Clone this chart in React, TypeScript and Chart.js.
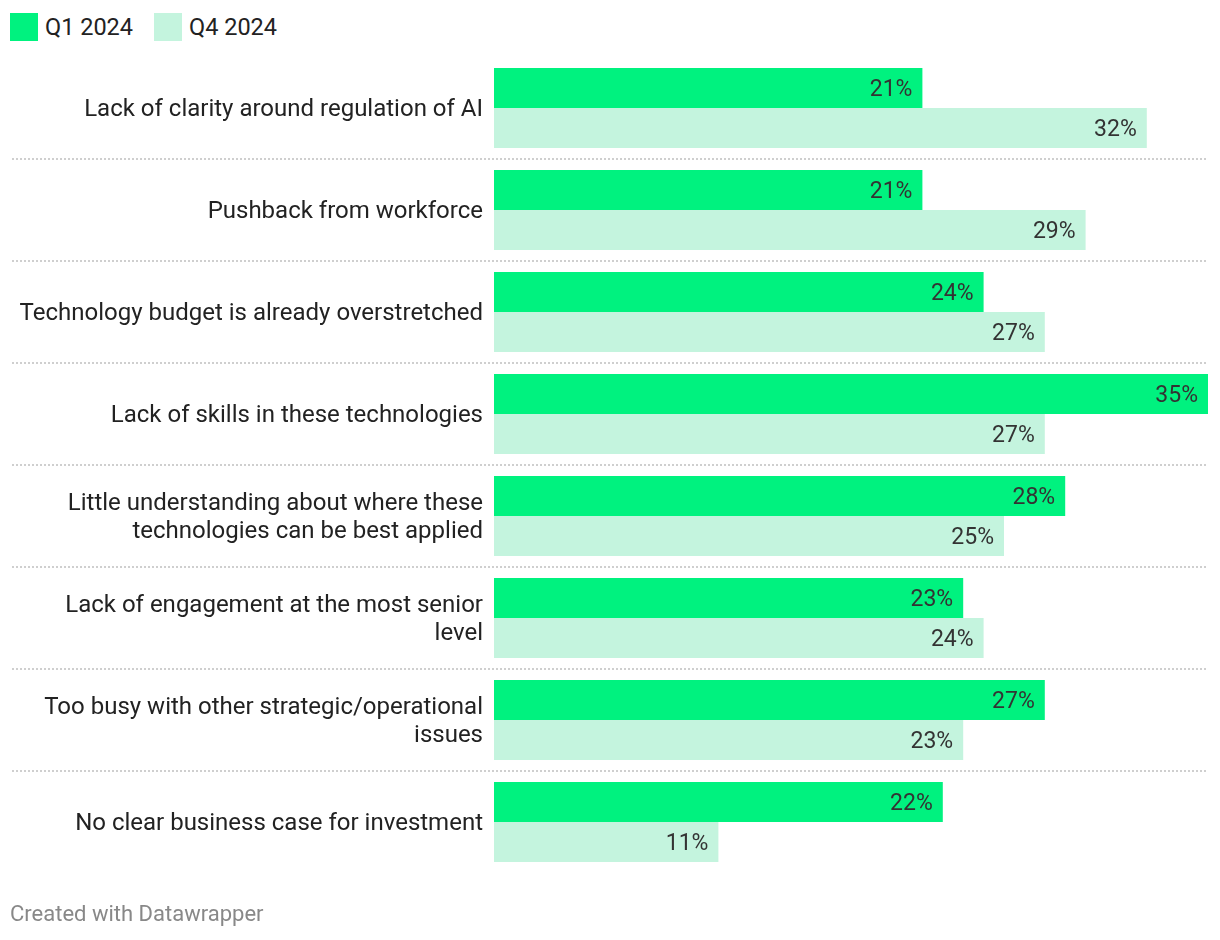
import React, { useEffect, useRef } from "react";
import { Chart, registerables } from "chart.js";

Chart.register(...registerables);

const categories: (string | string[])[] = [
  "Lack of clarity around regulation of AI",
  "Pushback from workforce",
  "Technology budget is already overstretched",
  "Lack of skills in these technologies",
  ["Little understanding about where these", "technologies can be best applied"],
  ["Lack of engagement at the most senior", "level"],
  ["Too busy with other strategic/operational", "issues"],
  "No clear business case for investment",
];
const seriesNames = ["Q1 2024", "Q4 2024"];
const q1Values = [21, 21, 24, 35, 28, 23, 27, 22];
const q4Values = [32, 29, 27, 27, 25, 24, 23, 11];
const colors = ["#00f27f", "#c4f4de"];
const FONT = "Roboto, 'Noto Sans', sans-serif";

const valueLabels = {
  id: "valueLabels",
  afterDatasetsDraw(chart: any) {
    const ctx = chart.ctx;
    ctx.save();
    ctx.font = `23px ${FONT}`;
    ctx.fillStyle = "#333333";
    ctx.textAlign = "right";
    ctx.textBaseline = "middle";
    chart.data.datasets.forEach((ds: any, di: number) => {
      const meta = chart.getDatasetMeta(di);
      meta.data.forEach((el: any, i: number) => {
        ctx.fillText(`${ds.data[i]}%`, el.x - 10, el.y + 2);
      });
    });
    ctx.restore();
  },
};

const categoryLabels = {
  id: "categoryLabels",
  afterDraw(chart: any) {
    const ctx = chart.ctx;
    const y = chart.scales.y;
    ctx.save();
    ctx.font = `24px ${FONT}`;
    ctx.fillStyle = "#222222";
    ctx.textAlign = "right";
    ctx.textBaseline = "middle";
    const labels = chart.data.labels;
    labels.forEach((lab: any, i: number) => {
      const lines = Array.isArray(lab) ? lab : [lab];
      const cy = y.getPixelForTick(i);
      lines.forEach((ln: string, j: number) => {
        ctx.fillText(ln, chart.chartArea.left - 11, cy + (j - (lines.length - 1) / 2) * 28 + 2);
      });
    });
    ctx.restore();
  },
};

const separators = {
  id: "separators",
  beforeDatasetsDraw(chart: any) {
    const ctx = chart.ctx;
    const y = chart.scales.y;
    ctx.save();
    ctx.strokeStyle = "#cfcfcf";
    ctx.lineWidth = 2;
    ctx.setLineDash([2, 2]);
    for (let i = 0; i < categories.length - 1; i++) {
      const py = Math.round((y.getPixelForTick(i) + y.getPixelForTick(i + 1)) / 2);
      ctx.beginPath();
      ctx.moveTo(4, py);
      ctx.lineTo(chart.chartArea.right, py);
      ctx.stroke();
    }
    ctx.restore();
  },
};

export default function App() {
  const ref = useRef<HTMLCanvasElement>(null);
  useEffect(() => {
    if (!ref.current) return;
    const chart = new Chart(ref.current, {
      type: "bar",
      data: {
        labels: categories,
        datasets: [
          { label: seriesNames[0], data: q1Values, backgroundColor: colors[0] },
          { label: seriesNames[1], data: q4Values, backgroundColor: colors[1] },
        ],
      },
      options: {
        indexAxis: "y",
        animation: false,
        responsive: true,
        maintainAspectRatio: false,
        layout: { padding: { top: 49, bottom: 59, right: 4, left: 0 } },
        datasets: { bar: { categoryPercentage: 80 / 102, barPercentage: 1 } },
        plugins: { legend: { display: false }, tooltip: { enabled: false } },
        scales: {
          x: { display: false, min: 0, max: 35 },
          y: {
            afterFit: (s: any) => {
              s.width = 486;
            },
            grid: { display: false, drawTicks: false },
            border: { display: false },
            ticks: { display: false },
          },
        },
      },
      plugins: [separators, valueLabels, categoryLabels],
    });
    return () => chart.destroy();
  }, []);

  const legendItem = (i: number, left: number) => (
    <div style={{ position: "absolute", left, top: 5, display: "flex", alignItems: "center", height: 28 }}>
      <div style={{ width: 28, height: 28, background: colors[i] }} />
      <span style={{ marginLeft: 7, fontSize: 23.5, color: "#222", fontFamily: FONT, lineHeight: "28px" }}>
        {seriesNames[i]}
      </span>
    </div>
  );

  return (
    <div style={{ position: "relative", width: 1204, height: 924, fontFamily: FONT }}>
      {legendItem(0, 2)}
      {legendItem(1, 146)}
      <div style={{ position: "absolute", left: 0, top: 0, width: 1204, height: 924 }}>
        <canvas ref={ref} />
      </div>
      <div style={{ position: "absolute", left: 2, top: 894, fontSize: 22, color: "#888", fontFamily: FONT, lineHeight: "24px" }}>
        Created with Datawrapper
      </div>
    </div>
  );
}
